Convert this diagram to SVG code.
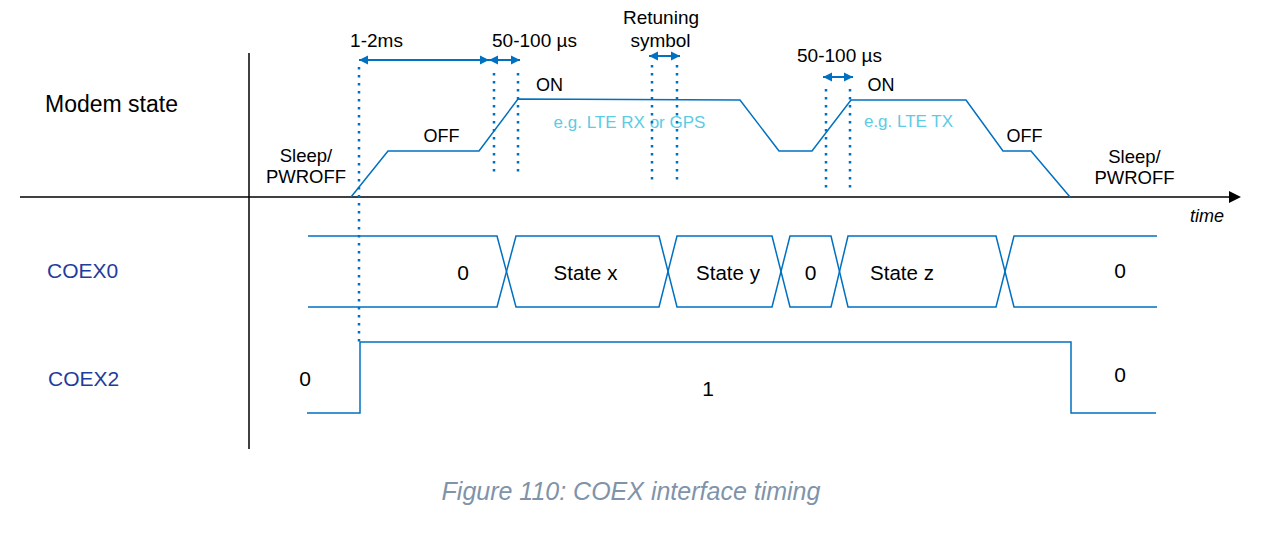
<svg xmlns="http://www.w3.org/2000/svg" width="1274" height="534" viewBox="0 0 1274 534">
<style>
text{font-family:"Liberation Sans",Arial,sans-serif;fill:#000}
.m{text-anchor:middle}
.lbl{fill:#1f3d9c;font-size:21px}
.lb{fill:#5ccbe4;font-size:17px}
.wave{fill:none;stroke:#0070c0;stroke-width:1.5}
.dot{fill:none;stroke:#0070c0;stroke-width:2.5;stroke-dasharray:2.5 5.5}
.dim{fill:none;stroke:#0070c0;stroke-width:2;marker-start:url(#ah);marker-end:url(#ah)}
.ax{fill:none;stroke:#000;stroke-width:1.5}
</style>
<defs>
<marker id="ah" viewBox="0 0 10 10" refX="10" refY="5" markerWidth="4.5" markerHeight="5.5" orient="auto-start-reverse" markerUnits="strokeWidth">
<path d="M0,0 L10,5 L0,10 Z" fill="#0070c0"/>
</marker>
<marker id="axh" viewBox="0 0 12 12" refX="0" refY="6" markerWidth="12" markerHeight="12" orient="auto" markerUnits="userSpaceOnUse">
<path d="M0,0 L12,6 L0,12 Z" fill="#000"/>
</marker>
</defs>
<rect width="1274" height="534" fill="#fff"/>

<g id="axes">
<line class="ax" x1="249" y1="53" x2="249" y2="449"/>
<line class="ax" x1="20" y1="197" x2="1229" y2="197" marker-end="url(#axh)"/>
<text x="1207" y="222" class="m" style="font-style:italic;font-size:18px">time</text>
</g>

<g id="row-labels">
<text x="45" y="112" style="font-size:23px">Modem state</text>
<text x="47" y="278" class="lbl">COEX0</text>
<text x="48" y="386" class="lbl">COEX2</text>
</g>

<g id="modem-state">
<polyline class="wave" points="351,197 388,151 479,151 518,99 740,100 779,151 812,151 851,100 966,100 1003,151 1031,151 1070,197"/>
<text class="m" x="306" y="162" style="font-size:18.5px">Sleep/</text>
<text class="m" x="306" y="183" style="font-size:18.5px">PWROFF</text>
<text class="m" x="441.5" y="142" style="font-size:18px">OFF</text>
<text class="m" x="549.5" y="91" style="font-size:18px">ON</text>
<text class="m lb" x="629.5" y="128">e.g. LTE RX or GPS</text>
<text class="m" x="881" y="91" style="font-size:18px">ON</text>
<text class="m lb" x="908.5" y="127">e.g. LTE TX</text>
<text class="m" x="1024.5" y="142" style="font-size:18px">OFF</text>
<text class="m" x="1134.5" y="163" style="font-size:18.5px">Sleep/</text>
<text class="m" x="1134.5" y="184" style="font-size:18.5px">PWROFF</text>
</g>

<g id="timing-markers">
<line class="dot" x1="359" y1="67" x2="359" y2="342"/>
<line class="dot" x1="494" y1="73" x2="494" y2="172"/>
<line class="dot" x1="518" y1="73" x2="518" y2="172"/>
<line class="dot" x1="652" y1="65" x2="652" y2="180"/>
<line class="dot" x1="677" y1="65" x2="677" y2="180"/>
<line class="dot" x1="826" y1="89" x2="826" y2="188"/>
<line class="dot" x1="850" y1="89" x2="850" y2="188"/>
<line class="dim" x1="359" y1="60" x2="489" y2="60"/>
<line class="dim" x1="489" y1="60" x2="520" y2="60"/>
<line class="dim" x1="649" y1="56" x2="680" y2="56"/>
<line class="dim" x1="823" y1="77" x2="853" y2="77"/>
<text class="m" x="376.5" y="47" style="font-size:19px">1-2ms</text>
<text class="m" x="534.5" y="47" style="font-size:19px">50-100 µs</text>
<text class="m" x="661" y="24" style="font-size:19px">Retuning</text>
<text class="m" x="660.5" y="47" style="font-size:19px">symbol</text>
<text class="m" x="839.5" y="62" style="font-size:19px">50-100 µs</text>
</g>

<g id="coex0">
<path class="wave" d="M308,236 H497 L516,307 H659 L677,236 H772 L790,307 H831 L848,236 H996 L1014,307 H1157"/>
<path class="wave" d="M308,307 H497 L516,236 H659 L677,307 H772 L790,236 H831 L848,307 H996 L1014,236 H1157"/>
<text class="m" x="463" y="280" style="font-size:21px">0</text>
<text class="m" x="585.5" y="280" style="font-size:20.5px">State x</text>
<text class="m" x="728" y="280" style="font-size:20.5px">State y</text>
<text class="m" x="810.5" y="280" style="font-size:21px">0</text>
<text class="m" x="902" y="280" style="font-size:20.5px">State z</text>
<text class="m" x="1120" y="278" style="font-size:21px">0</text>
</g>

<g id="coex2">
<path class="wave" d="M307,413 H360 V342 H1071 V413 H1156"/>
<text class="m" x="305" y="386" style="font-size:21px">0</text>
<text class="m" x="708" y="396" style="font-size:21px">1</text>
<text class="m" x="1120" y="382" style="font-size:21px">0</text>
</g>

<g id="caption">
<text class="m" x="631" y="500" style="font-style:italic;font-size:25px;fill:#7f93aa">Figure 110: COEX interface timing</text>
</g>
</svg>
